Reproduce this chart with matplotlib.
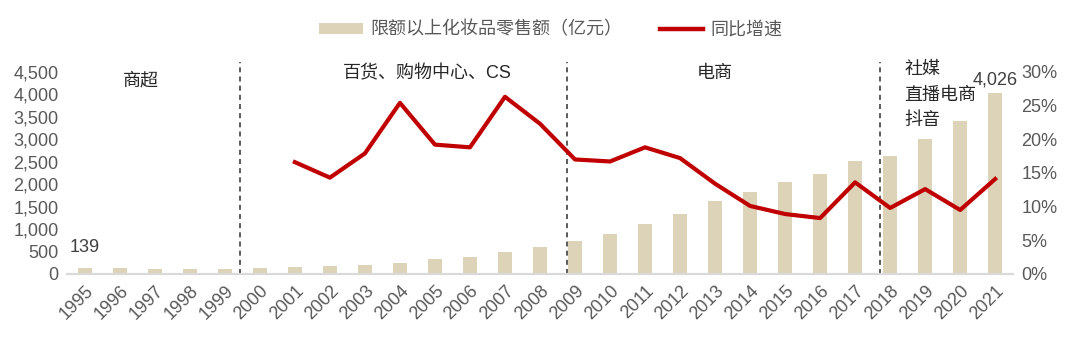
import matplotlib.pyplot as plt
import numpy as np
from matplotlib.ticker import FuncFormatter, MultipleLocator
from matplotlib.patches import Patch
from matplotlib.lines import Line2D

plt.rcParams["font.family"] = ["Liberation Sans", "Noto Sans CJK SC", "DejaVu Sans"]

years = [str(y) for y in range(1995, 2022)]
sales = [139, 139, 105, 105, 105, 130, 150, 172, 200, 253, 330, 388, 485, 597,
         737, 893, 1110, 1340, 1630, 1822, 2050, 2230, 2514, 2625, 2996, 3412, 4026]
growth_years = years[6:]
growth = [16.6, 14.3, 17.9, 25.4, 19.2, 18.8, 26.3, 22.3, 17.0, 16.7, 18.8, 17.2,
          13.4, 10.1, 8.9, 8.3, 13.6, 9.8, 12.6, 9.5, 14.1]
stages = ["商超", "百货、购物中心、CS", "电商", "社媒\n直播电商\n抖音"]

bar_color = "#DDD3B9"
line_color = "#C00000"
tick_color = "#595959"
text_color = "#262626"

fig = plt.figure(figsize=(10.8, 3.54), dpi=100)
ax = fig.add_axes([0.062, 0.226, 0.876, 0.571])
ax2 = ax.twinx()

x = np.arange(len(years))
ax.bar(x, sales, width=0.4, color=bar_color, zorder=2)
gx = x[6:]
ax2.plot(gx, growth, color=line_color, lw=3.0, solid_joinstyle="round", zorder=3)

ax.set_xlim(-0.51, 26.51)
ax.set_ylim(0, 4500)
ax2.set_ylim(0, 30)
ax.yaxis.set_major_locator(MultipleLocator(500))
ax2.yaxis.set_major_locator(MultipleLocator(5))
ax.yaxis.set_major_formatter(FuncFormatter(lambda v, p: f"{int(v):,}"))
ax2.yaxis.set_major_formatter(FuncFormatter(lambda v, p: f"{int(v)}%"))

ax.set_xticks(x)
ax.set_xticklabels(years, rotation=45, ha="right", rotation_mode="anchor")
for a in (ax, ax2):
    for s in ("top", "left", "right"):
        a.spines[s].set_visible(False)
    a.spines["bottom"].set_color("#D9D9D9")
    a.spines["bottom"].set_linewidth(1.5)
    a.tick_params(length=0, labelsize=13, colors=tick_color)
ax.tick_params(axis="x", pad=6)
ax.tick_params(axis="y", pad=6)
ax2.tick_params(axis="y", pad=6)

# stage separators
for xs in (4.43, 13.78, 22.72):
    ax.plot([xs, xs], [0, 1.05], transform=ax.get_xaxis_transform(),
            ls=(0, (3, 2.5)), color="#404040", lw=1.2, clip_on=False, zorder=4)

# labels on first and last bars
ax.text(x[0], sales[0] + 260, f"{sales[0]:,}", ha="center", va="bottom",
        fontsize=13, color="#404040")
ax.text(x[-1], sales[-1] + 110, f"{sales[-1]:,}", ha="center", va="bottom",
        fontsize=13, color="#404040")

ax.text(1.6, 4300, stages[0], ha="center", va="center", fontsize=13, color=text_color)
ax.text(9.77, 4470, stages[1], ha="center", va="center", fontsize=13, color=text_color)
ax.text(18.0, 4470, stages[2], ha="center", va="center", fontsize=13, color=text_color)
ax.text(23.4, 4740, stages[3], ha="left", va="top", fontsize=13, color=text_color,
        linespacing=1.65)

handles = [Patch(facecolor=bar_color, edgecolor="none"),
           Line2D([0], [0], color=line_color, lw=3.2)]
fig.legend(handles, ["限额以上化妆品零售额（亿元）", "同比增速"], ncol=2,
           loc="center", bbox_to_anchor=(0.51, 0.915), frameon=False,
           fontsize=13, labelcolor=tick_color, handlelength=2.4,
           handleheight=0.6, handletextpad=0.4, columnspacing=2.1)

fig.savefig("out.png", dpi=100)
